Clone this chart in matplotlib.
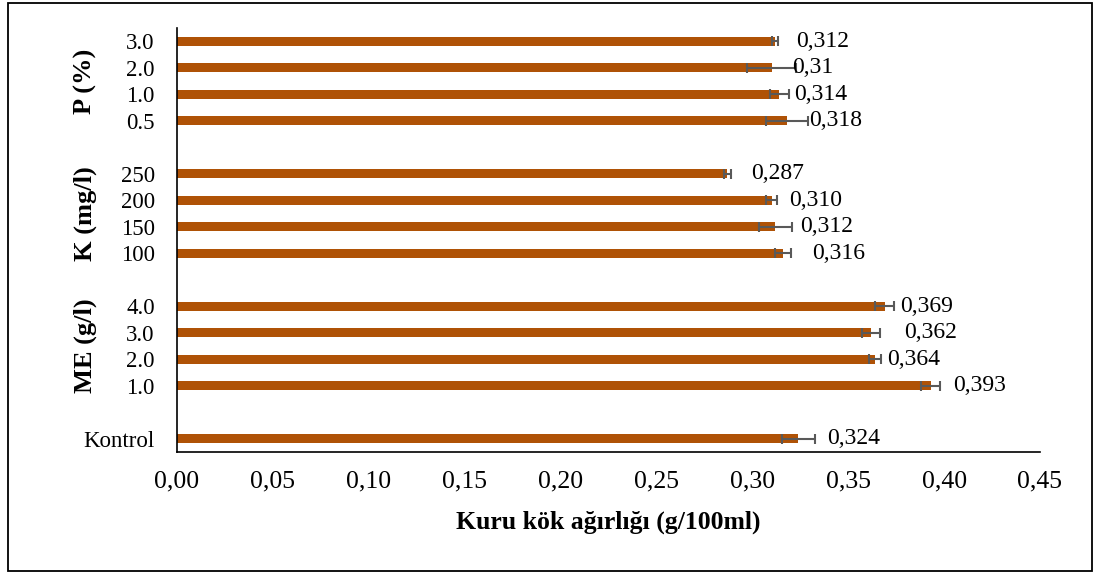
import numpy as np
import matplotlib
matplotlib.use("Agg")
from matplotlib import pyplot as plt
from matplotlib.patches import Rectangle

plt.rcParams['font.family'] = ['Liberation Serif', 'DejaVu Serif']

# veriler (alttan üste)
groups = ["", "ME (g/l)", "K (mg/l)", "P (%)"]
group_levels = [["Kontrol"],
                ["1.0", "2.0", "3.0", "4.0"],
                ["100", "150", "200", "250"],
                ["0.5", "1.0", "2.0", "3.0"]]
values = [0.324,
          0.393, 0.364, 0.362, 0.369,
          0.316, 0.312, 0.310, 0.287,
          0.318, 0.314, 0.310, 0.312]
errors = [0.0087,
          0.0048, 0.003, 0.0048, 0.005,
          0.0044, 0.0085, 0.003, 0.002,
          0.011, 0.005, 0.0126, 0.0015]
value_text = ["0,324",
              "0,393", "0,364", "0,362", "0,369",
              "0,316", "0,312", "0,310", "0,287",
              "0,318", "0,314", "0,31", "0,312"]
# etiketlerin çubuk ucundan uzaklığı (pt)
label_dx = [21, 16, 9, 24, 11, 21, 18, 13, 17, 16, 11, 15, 15]
xticks = [0.00, 0.05, 0.10, 0.15, 0.20, 0.25, 0.30, 0.35, 0.40, 0.45]
xlabel = "Kuru kök ağırlığı (g/100ml)"

bar_color = "#AF5206"
err_color = "#595959"

# konumlar: gruplar arasında bir boşluk
pos = []
labels = []
group_centers = []
p = 0
for levels in group_levels:
    start = p
    for lv in levels:
        pos.append(p)
        labels.append(lv)
        p += 1
    group_centers.append((start + p - 1) / 2)
    p += 1
pos = np.array(pos)

W, H = 1096, 572
fig = plt.figure(figsize=(W / 100, H / 100), dpi=100)
ax = fig.add_axes([177 / W, 1 - 452 / H, (1040 - 177) / W, (452 - 28) / H])

ax.barh(pos, values, height=0.34, color=bar_color, zorder=2)
ax.errorbar(values, pos, xerr=errors, fmt='none', ecolor=err_color,
            elinewidth=1.5, capsize=3.6, capthick=1.5, zorder=3)

for v, y, t, dx in zip(values, pos, value_text, label_dx):
    ax.annotate(t, (v, y), xytext=(dx, 0), textcoords='offset points',
                ha='left', va='center', fontsize=17)

ax.set_xlim(0, 0.45)
ax.set_ylim(-0.5, p - 1.5)
ax.set_yticks(pos)
ax.set_yticklabels(labels, fontsize=16.5)
ax.set_xticks(xticks)
ax.set_xticklabels([f"{x:.2f}".replace(".", ",") for x in xticks], fontsize=18.5)
ax.tick_params(axis='y', length=0, pad=16)
ax.tick_params(axis='x', length=0, pad=13)

for s in ['top', 'right']:
    ax.spines[s].set_visible(False)
for s in ['left', 'bottom']:
    ax.spines[s].set_linewidth(1.2)
    ax.spines[s].set_color('black')

for g, c in zip(groups, group_centers):
    if g:
        ax.text((85 - 177) / (1040 - 177), c, g, rotation=90, ha='center', va='center',
                fontsize=19, fontweight='bold',
                transform=ax.get_yaxis_transform())

fig.text((177 + 1040) / 2 / W, 1 - 522 / H, xlabel, ha='center', va='center',
         fontsize=18.5, fontweight='bold')

# dış çerçeve
fig.patches.append(Rectangle((8 / W, 1 / H), (1092 - 8) / W, (569 - 1) / H,
                             transform=fig.transFigure, fill=False,
                             edgecolor='black', linewidth=1.3))

fig.savefig("out.png", dpi=100)
